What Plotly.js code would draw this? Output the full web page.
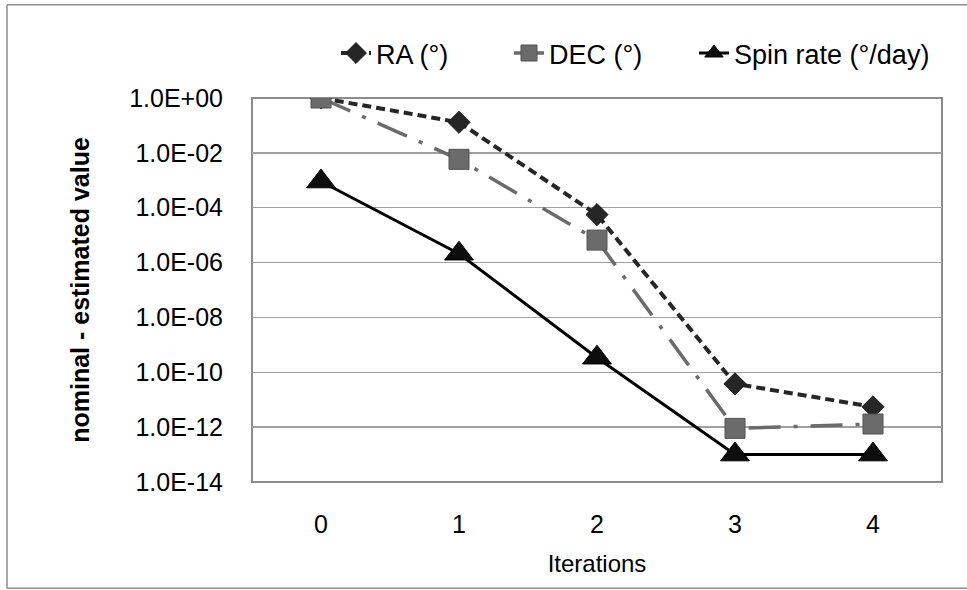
<!DOCTYPE html>
<html>
<head>
<meta charset="utf-8">
<script src="https://cdn.plot.ly/plotly-3.0.1.min.js"></script>
<style>html,body{margin:0;padding:0;background:#fff;}#chart{width:967px;height:590px;}</style>
</head>
<body>
<div id="chart"></div>
<script>
const iterations = ["0", "1", "2", "3", "4"];
const raValues = [1.0, 0.13, 5.6e-5, 3.8e-11, 5.5e-12];
const decValues = [1.0, 5.8e-3, 6.6e-6, 9e-13, 1.3e-12];
const spinValues = [9e-4, 2.1e-6, 3.4e-10, 1e-13, 1e-13];
const yTickValues = [1e0, 1e-2, 1e-4, 1e-6, 1e-8, 1e-10, 1e-12, 1e-14];
const yTickLabels = ["1.0E+00", "1.0E-02", "1.0E-04", "1.0E-06", "1.0E-08", "1.0E-10", "1.0E-12", "1.0E-14"];

const FONT = "Liberation Sans, Arial, sans-serif";

const traces = [
  {
    x: iterations, y: raValues, name: "RA (°)", type: "scatter", mode: "lines+markers", legend: "legend",
    line: {color: "#262626", width: 4, dash: "9px,5px"},
    marker: {symbol: "diamond", size: 17, color: "#262626", line: {color: "#1a1a1a", width: 1}}
  },
  {
    x: iterations, y: decValues, name: "DEC (°)", type: "scatter", mode: "lines+markers", legend: "legend2",
    line: {color: "#6b6b6b", width: 3.5, dash: "32px,13px,4px,13px"},
    marker: {symbol: "square", size: 20, color: "#6b6b6b", line: {color: "#525252", width: 1}}
  },
  {
    x: iterations, y: spinValues, name: "Spin rate (°/day)", type: "scatter", mode: "lines+markers", legend: "legend3",
    line: {color: "#000000", width: 3},
    marker: {symbol: "triangle-up", size: 25, color: "#0d0d0d", line: {color: "#000", width: 1}}
  }
];

function legendAt(px) {
  return {
    orientation: "h", x: (px - 252) / 690, xanchor: "left", y: 1.116, yanchor: "middle",
    font: {family: FONT, size: 27, color: "#000"}, bgcolor: "rgba(0,0,0,0)"
  };
}

const layout = {
  width: 967, height: 590,
  margin: {l: 252, r: 25, t: 97.5, b: 107.5},
  paper_bgcolor: "#fff", plot_bgcolor: "#fff",
  font: {family: FONT, size: 25, color: "#000"},
  showlegend: true,
  legend: legendAt(336),
  legend2: legendAt(509),
  legend3: legendAt(694),
  xaxis: {
    type: "category", range: [-0.5, 4.5],
    showgrid: false, zeroline: false, showline: false,
    ticks: "", ticklabelstandoff: 25,
    tickfont: {family: FONT, size: 25, color: "#000"},
    title: {text: "Iterations", font: {family: FONT, size: 24, color: "#000"}, standoff: 18}
  },
  yaxis: {
    type: "log", range: [-14, 0],
    tickvals: yTickValues, ticktext: yTickLabels,
    showgrid: true, gridcolor: "#a0a0a0", gridwidth: 1.5,
    zeroline: false, showline: false, ticks: "", ticklabelstandoff: 28,
    tickfont: {family: FONT, size: 25, color: "#000"},
    title: {text: "<b>nominal - estimated value</b>", font: {family: FONT, size: 25, color: "#000"}, standoff: 32}
  },
  shapes: [
    {type: "rect", xref: "paper", yref: "paper", x0: 0, x1: 1, y0: 0, y1: 1, line: {color: "#8c8c8c", width: 2}, layer: "below"},
    {type: "line", xref: "paper", yref: "paper", x0: (7-252)/690, x1: (7-252)/690, y0: (482.5-4)/385, y1: (482.5-589)/385, line: {color: "#8c8c8c", width: 1.5}},
    {type: "line", xref: "paper", yref: "paper", x0: (7-252)/690, x1: (967-252)/690, y0: (482.5-4)/385, y1: (482.5-4)/385, line: {color: "#8c8c8c", width: 1.5}},
    {type: "line", xref: "paper", yref: "paper", x0: (7-252)/690, x1: (967-252)/690, y0: (482.5-589)/385, y1: (482.5-589)/385, line: {color: "#8c8c8c", width: 1.5}}
  ]
};

Plotly.newPlot("chart", traces, layout, {displayModeBar: false, staticPlot: true});
</script>
</body>
</html>
